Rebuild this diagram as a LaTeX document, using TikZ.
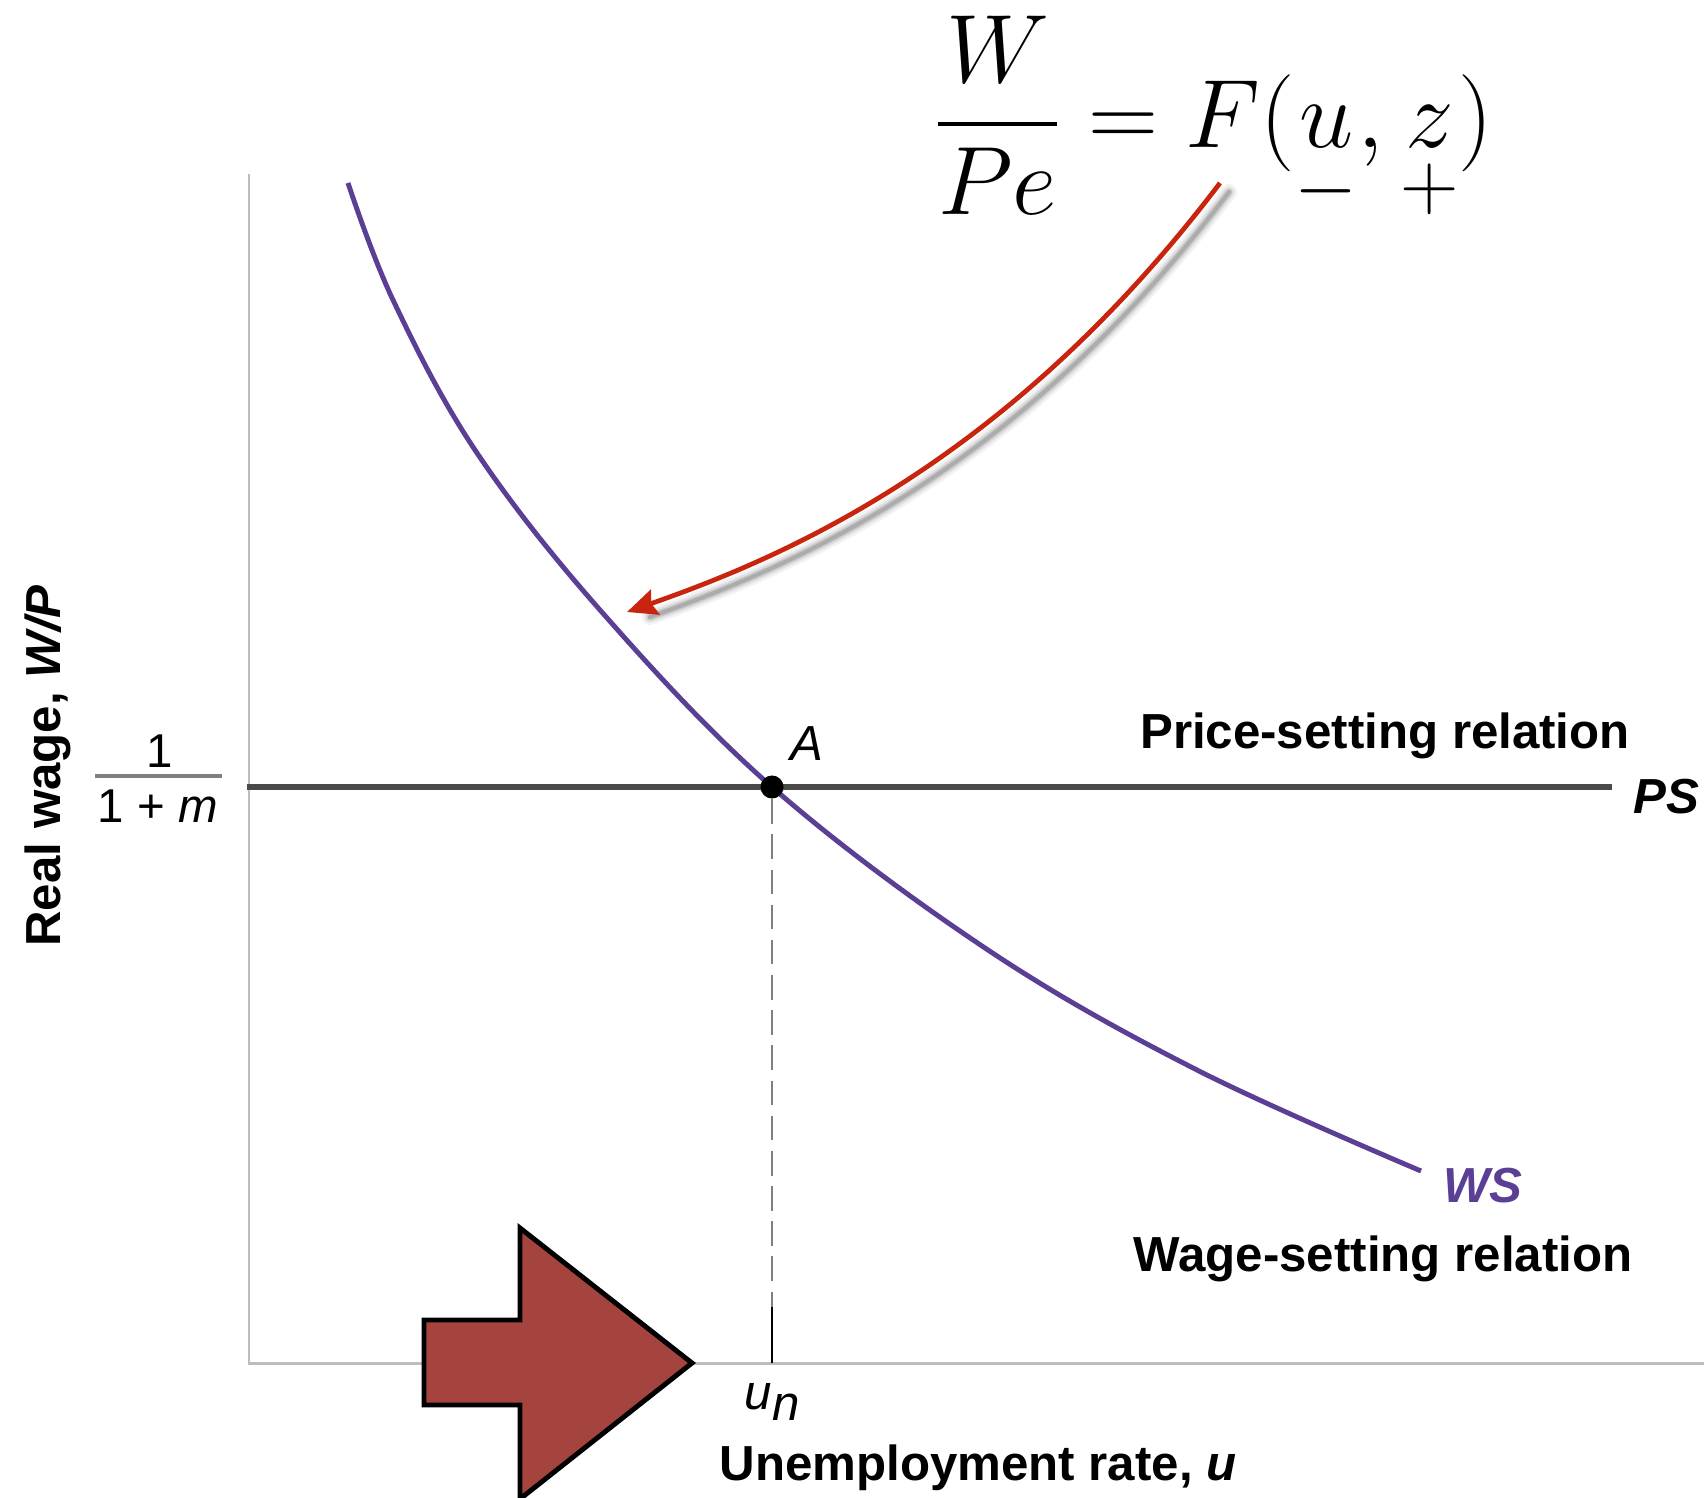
\documentclass[tikz,border=0pt]{standalone}
\usepackage{amsmath}
\usepackage{fontspec}
\setsansfont{Liberation Sans}
\usetikzlibrary{arrows.meta}
\definecolor{wspurple}{HTML}{5B3F95}
\definecolor{arrowred}{HTML}{C9250E}
\definecolor{blockred}{HTML}{A5443E}
\definecolor{axisgray}{HTML}{BDBDBD}
\definecolor{psgray}{HTML}{4A4A4A}
\begin{document}
\begin{tikzpicture}[x=0.01cm,y=-0.01cm,
  lbl/.style={font=\fontsize{14}{16}\selectfont\sffamily\bfseries, inner sep=0pt},
  reglbl/.style={font=\fontsize{13.5}{16}\selectfont\sffamily, inner sep=0pt},
  itlbl/.style={font=\fontsize{14}{16}\selectfont\sffamily\itshape, inner sep=0pt},
  axisline/.style={draw=axisgray, line width=0.85pt},
  psline/.style={draw=psgray, line width=1.6pt},
  wsline/.style={draw=wspurple, line width=1.4pt},
  redarrow/.style={draw=arrowred, line width=1.35pt, -{Stealth[length=8.5pt, width=7.5pt, inset=1.2pt]}},
  dashline/.style={draw=gray, line width=0.5pt, dash pattern=on 7pt off 3pt},
]
\useasboundingbox (0,0) rectangle (1704,1498);
\fill[white] (0,0) rectangle (1704,1498);

% axes
\coordinate (ytop) at (249,174);
\coordinate (O) at (249,1363);
\coordinate (xend) at (1704,1363);
\draw[axisline] (ytop) -- (O) -- (xend);

% PS line
\coordinate (ps0) at (247,787);
\coordinate (ps1) at (1612,787);
\draw[psline] (ps0) -- (ps1);

% WS curve
\draw[wsline] plot[smooth, tension=0.6] coordinates {(348,183) (393,300) (475,450) (600,610) (772,787) (988,950) (1197,1070) (1421,1171)};

% point A and dashed line
\node[circle, fill=black, minimum size=0.23cm, inner sep=0pt] (A) at (772,787) {};
\coordinate (tk) at (772,1307);
\coordinate (un) at (772,1363);
\draw[dashline] (A) -- (tk);
\draw[black, line width=0.6pt] (tk) -- (un);

% red arrow: start and end
\coordinate (rs) at (1220,183);
\coordinate (re) at (627,612);
\coordinate (rsh) at (1229,192);
\coordinate (reh) at (650,617);
% shadow
\foreach \w/\o in {16/0.05, 11/0.07, 7/0.10, 4/0.14}{
  \draw[black, opacity=\o, line width=\w*0.2845pt, line cap=round]
    (rsh) .. controls (1019,469) and (799,564) .. (reh);
}
% red arrow
\draw[redarrow] (rs) .. controls (1010,460) and (790,555) .. (re);

% block arrow
\draw[fill=blockred, draw=black, line width=1.4pt, line join=miter]
  (424,1320) -- (520,1320) -- (520,1228) -- (692,1363) -- (520,1499) -- (520,1405) -- (424,1405) -- cycle;

% equation
\node[anchor=base west, inner sep=0pt, scale=1.11, transform shape,
      font=\fontsize{24.88}{30}\selectfont] (eq) at (933,148)
  {$\dfrac{W}{Pe} = F(\underset{-}{u}, \underset{+}{z})$};

% labels
\node[lbl, anchor=base] (pslbl) at (1385,748) {Price-setting relation};
\node[lbl, anchor=base] (psname) at (1666,813) {\textit{PS}};
\node[lbl, anchor=base, text=wspurple] (wsname) at (1483,1202) {\textit{WS}};
\node[lbl, anchor=base] (wslbl) at (1383,1271) {Wage-setting relation};
\node[itlbl, anchor=base] (Alab) at (807,760) {A};
\node[lbl, anchor=base] (xlab) at (978,1480) {Unemployment rate, \textit{u}};
\node[lbl, anchor=base, rotate=90] (ylab) at (60,766) {Real wage, \textit{W/P}};
\node[itlbl, anchor=base west] (unlab) at (744,1409) {u\raisebox{-0.45ex}{n}};

% 1/(1+m)
\node[reglbl, anchor=base] (num) at (160,767) {1};
\coordinate (bar0) at (95,776);
\coordinate (bar1) at (222,776);
\draw[draw=gray, line width=1.1pt] (bar0) -- (bar1);
\node[reglbl, anchor=base] (den) at (158,822) {1 + \textit{m}};
\end{tikzpicture}
\end{document}
